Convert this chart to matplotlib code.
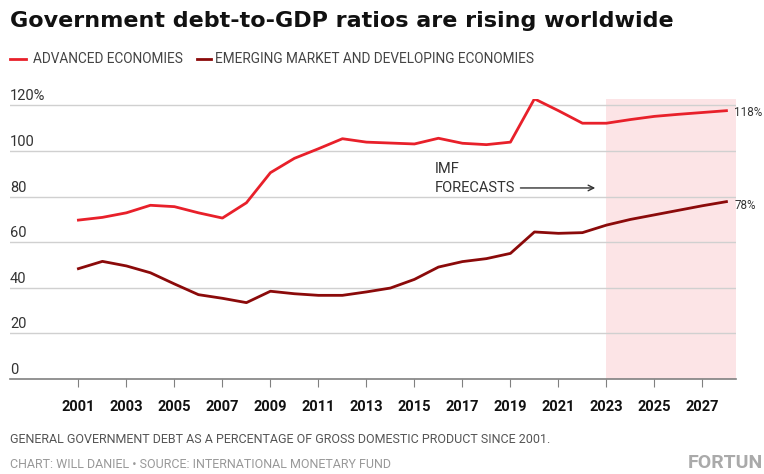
import matplotlib
matplotlib.use("Agg")
from matplotlib import pyplot as plt

years = list(range(2001, 2029))
advanced = [69.7, 70.9, 72.9, 76.2, 75.6, 72.9, 70.6, 77.3, 90.5, 96.8,
            101.0, 105.4, 103.9, 103.5, 103.1, 105.6, 103.4, 102.8, 103.9, 122.9,
            117.7, 112.2, 112.2, 113.8, 115.2, 116.1, 116.9, 117.7]
emerging = [48.4, 51.6, 49.6, 46.6, 41.7, 37.0, 35.4, 33.5, 38.5, 37.4,
            36.7, 36.7, 38.2, 39.9, 43.7, 49.1, 51.5, 52.8, 55.1, 64.5,
            63.9, 64.2, 67.5, 70.0, 72.0, 74.0, 76.0, 77.8]
xtick_years = list(range(2001, 2028, 2))
ytick_vals = [0, 20, 40, 60, 80, 100, 120]
ytick_labels = ["0", "20", "40", "60", "80", "100", "120%"]

red = "#e8202a"
dark_red = "#8b0a0a"
font = "Roboto"

fig = plt.figure(figsize=(7.64, 4.74), dpi=100)
ax = fig.add_axes([0.0131, 0.2004, 0.9503, 0.5916])

# 预测区阴影
ax.axvspan(2023, 2028.4, color="#fce4e6", lw=0, zorder=0)

ax.plot(years, advanced, color=red, lw=2, zorder=3)
ax.plot(years, emerging, color=dark_red, lw=2, zorder=3)

ax.set_xlim(1998.15, 2028.4)
ax.set_ylim(0, 123)

# 网格线 + 网格线上方的y轴标签
for v, lab in zip(ytick_vals, ytick_labels):
    if v > 0:
        ax.axhline(v, color="#d0d0d0", lw=1, zorder=1)
    ax.text(1998.15, v + 4, lab, fontsize=10.5, color="#333333",
            ha="left", va="center", family=font)
ax.set_yticks([])

for s in ["top", "right", "left"]:
    ax.spines[s].set_visible(False)
ax.spines["bottom"].set_color("#808080")
ax.spines["bottom"].set_linewidth(1.2)

ax.set_xticks(xtick_years)
ax.set_xticklabels([str(y) for y in xtick_years], fontsize=10.5,
                   fontweight="bold", family=font, color="#111111")
ax.tick_params(axis="x", length=6, color="#808080", pad=9)

# 末端数值
ax.text(2028.32, 116.7, "118%", fontsize=8.4, color="#333333",
        va="center", ha="left", family=font)
ax.text(2028.32, 76.1, "78%", fontsize=8.4, color="#333333",
        va="center", ha="left", family=font)

# IMF 预测说明
ax.text(2015.84, 92.1, "IMF", fontsize=10.5, color="#333333",
        va="center", ha="left", family=font)
ax.text(2015.84, 83.8, "FORECASTS", fontsize=10.5, color="#333333",
        va="center", ha="left", family=font)
ax.annotate("", xy=(2022.65, 83.8), xytext=(2019.3, 83.8),
            arrowprops=dict(arrowstyle="->", color="#333333", lw=1))

# 标题和图例
fig.text(0.013, 0.943, "Government debt-to-GDP ratios are rising worldwide",
         fontsize=16, fontweight="bold", color="#111111", va="baseline",
         family="DejaVu Sans")
fig.add_artist(plt.Line2D([0.013, 0.034], [0.875, 0.875], color=red, lw=2))
fig.text(0.043, 0.875, "ADVANCED ECONOMIES", fontsize=9.8, color="#444444",
         va="center", family=font)
fig.add_artist(plt.Line2D([0.258, 0.276], [0.875, 0.875], color=dark_red, lw=2))
fig.text(0.282, 0.875, "EMERGING MARKET AND DEVELOPING ECONOMIES", fontsize=9.8,
         color="#444444", va="center", family=font)

# 底部说明
fig.text(0.013, 0.073, "GENERAL GOVERNMENT DEBT AS A PERCENTAGE OF GROSS DOMESTIC PRODUCT SINCE 2001.",
         fontsize=9, color="#555555", va="center", family=font)
fig.text(0.013, 0.019, "CHART: WILL DANIEL \u2022 SOURCE: INTERNATIONAL MONETARY FUND",
         fontsize=9, color="#999999", va="center", family=font)
fig.text(0.999, 0.024, "FORTUN", fontsize=14, fontweight="bold", color="#aaaaaa",
         va="center", ha="right", family=font)

fig.savefig("out.png", dpi=100)
